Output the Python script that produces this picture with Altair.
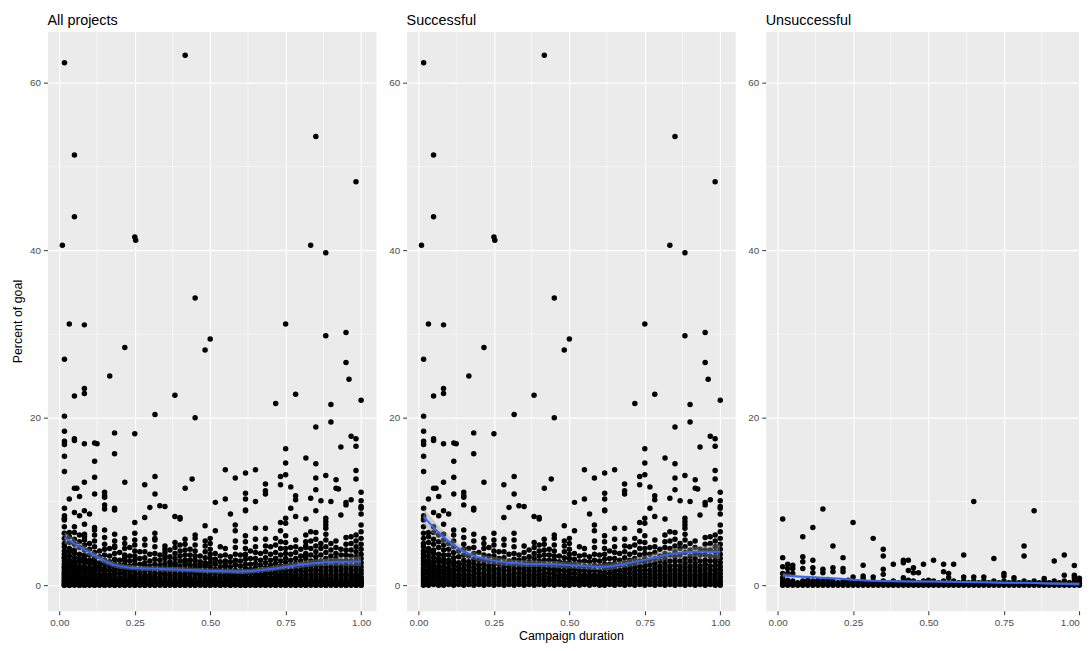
import altair as alt
import pandas as pd

FONT = "Liberation Sans"
N_DAYS = 60

# ---- Successful projects: dense band per campaign day (day 1..60), percent of goal
succ_cols = [
    [0.0, 0.3, 0.6, 0.9, 1.2, 1.5, 1.8, 2.1, 2.5, 2.9, 3.3, 3.7, 4.1, 4.6, 5.0, 5.6, 6.2, 7.0, 7.8],
    [0.0, 0.3, 0.7, 1.0, 1.4, 1.8, 2.2, 2.6, 3.0, 3.5, 4.0, 4.4, 5.1, 5.8],
    [0.1, 0.4, 0.8, 1.2, 1.6, 2.0, 2.4, 2.8, 3.3, 3.8, 4.2, 4.9, 5.5, 6.3, 7.0],
    [0.0, 0.4, 0.8, 1.1, 1.5, 1.9, 2.3, 2.8, 3.2, 3.7, 4.5, 5.2, 6.0],
    [0.0, 0.3, 0.6, 1.0, 1.4, 1.8, 2.2, 2.7, 3.1, 3.6, 4.2, 4.8, 5.4, 6.1, 7.3],
    [0.1, 0.5, 0.9, 1.3, 1.7, 2.1, 2.6, 3.0, 3.6, 4.3, 5.0],
    [0.0, 0.3, 0.7, 1.1, 1.5, 1.9, 2.4, 2.8, 3.3, 3.9, 4.6, 5.3, 6.0, 6.6],
    [0.1, 0.5, 0.9, 1.3, 1.8, 2.2, 2.7, 3.4, 4.1],
    [0.0, 0.4, 0.8, 1.2, 1.6, 2.0, 2.5, 3.0, 3.6, 4.3, 4.9, 5.7, 6.6],
    [0.1, 0.5, 0.9, 1.3, 1.8, 2.3, 2.8, 3.5, 4.4],
    [0.0, 0.4, 0.8, 1.2, 1.6, 2.1, 2.6, 3.1, 3.8, 4.5, 5.3, 6.1],
    [0.1, 0.5, 0.9, 1.4, 1.9, 2.4, 3.0, 3.9],
    [0.0, 0.3, 0.7, 1.1, 1.5, 2.0, 2.5, 3.0, 3.6, 4.4, 5.0, 5.6],
    [0.1, 0.5, 0.9, 1.3, 1.8, 2.3, 2.9, 3.5, 4.5],
    [0.0, 0.4, 0.8, 1.2, 1.6, 2.0, 2.5, 3.0, 3.5, 4.1, 4.8, 5.4, 6.2],
    [0.1, 0.5, 0.9, 1.4, 1.9, 2.5, 3.2, 4.0],
    [0.0, 0.4, 0.8, 1.2, 1.7, 2.2, 2.7, 3.3, 4.0, 4.8, 5.5],
    [0.1, 0.5, 0.9, 1.3, 1.8, 2.3, 2.9, 3.7],
    [0.0, 0.3, 0.7, 1.1, 1.5, 2.0, 2.5, 3.1, 3.8, 4.6, 5.4, 6.2],
    [0.1, 0.5, 0.9, 1.4, 1.9, 2.4, 3.0, 3.6],
    [0.0, 0.4, 0.8, 1.2, 1.6, 2.1, 2.6, 3.2, 3.9, 4.7],
    [0.1, 0.5, 0.9, 1.3, 1.8, 2.3, 2.8, 3.4, 4.2],
    [0.0, 0.4, 0.8, 1.2, 1.6, 2.1, 2.6, 3.2, 3.8, 4.5, 5.1],
    [0.1, 0.5, 0.9, 1.3, 1.8, 2.3, 2.9, 3.5, 4.1, 4.8],
    [0.0, 0.3, 0.7, 1.1, 1.5, 2.0, 2.5, 3.0, 3.6, 4.2, 4.9, 5.5],
    [0.1, 0.5, 0.9, 1.4, 1.9, 2.4, 3.0, 3.6, 4.3],
    [0.0, 0.4, 0.8, 1.2, 1.6, 2.0, 2.5, 3.0, 3.5, 4.1, 4.8, 5.6],
    [0.1, 0.5, 0.9, 1.3, 1.8, 2.3, 2.8, 3.5],
    [0.0, 0.4, 0.8, 1.2, 1.7, 2.2, 2.7, 3.3, 4.0, 4.7, 5.3],
    [0.0, 0.3, 0.6, 1.0, 1.4, 1.8, 2.2, 2.7, 3.2, 3.7, 4.3, 5.0, 5.6],
    [0.1, 0.5, 0.9, 1.4, 1.9, 2.5, 3.1, 3.8],
    [0.0, 0.4, 0.8, 1.2, 1.7, 2.2, 2.8, 3.5, 4.6],
    [0.1, 0.5, 0.9, 1.3, 1.8, 2.3, 2.9, 3.6, 4.4],
    [0.0, 0.4, 0.8, 1.2, 1.7, 2.2, 2.8, 3.4],
    [0.1, 0.5, 0.9, 1.3, 1.8, 2.4, 3.0, 3.7, 4.5, 5.3],
    [0.0, 0.4, 0.8, 1.2, 1.7, 2.3, 2.9, 3.6],
    [0.0, 0.3, 0.7, 1.1, 1.5, 2.0, 2.5, 3.1, 3.7, 4.4, 5.2, 5.9],
    [0.1, 0.5, 0.9, 1.4, 1.9, 2.5, 3.2, 4.1],
    [0.0, 0.4, 0.8, 1.2, 1.6, 2.1, 2.6, 3.2, 3.9, 4.6, 5.5],
    [0.1, 0.5, 0.9, 1.3, 1.8, 2.4, 3.0, 3.8],
    [0.0, 0.4, 0.8, 1.2, 1.6, 2.1, 2.7, 3.3, 4.0, 4.7, 5.5],
    [0.1, 0.5, 0.9, 1.4, 1.9, 2.4, 3.0, 3.7, 4.6],
    [0.0, 0.4, 0.8, 1.2, 1.6, 2.1, 2.6, 3.2, 3.9, 4.8, 5.6],
    [0.1, 0.5, 0.9, 1.3, 1.8, 2.3, 2.9, 3.6, 4.4, 5.2],
    [0.0, 0.3, 0.6, 1.0, 1.4, 1.8, 2.2, 2.7, 3.2, 3.8, 4.4, 5.1, 5.9],
    [0.1, 0.5, 0.9, 1.3, 1.8, 2.4, 3.0, 3.7, 4.5],
    [0.0, 0.4, 0.8, 1.2, 1.6, 2.1, 2.6, 3.2, 3.9, 4.6, 5.4],
    [0.1, 0.5, 0.9, 1.3, 1.8, 2.3, 2.9, 3.5, 4.3],
    [0.0, 0.4, 0.8, 1.2, 1.6, 2.1, 2.6, 3.2, 3.8, 4.5, 5.2, 6.0],
    [0.1, 0.5, 0.9, 1.3, 1.8, 2.3, 2.9, 3.6, 4.4, 5.3],
    [0.0, 0.3, 0.7, 1.1, 1.5, 1.9, 2.4, 2.9, 3.4, 4.0, 4.7, 5.5, 6.3],
    [0.1, 0.5, 0.9, 1.3, 1.8, 2.3, 2.9, 3.6, 4.4, 5.0],
    [0.0, 0.4, 0.8, 1.2, 1.6, 2.1, 2.6, 3.2, 3.9, 4.6, 5.4, 6.1],
    [0.1, 0.5, 0.9, 1.3, 1.8, 2.3, 2.9, 3.5, 4.2, 5.0],
    [0.0, 0.4, 0.8, 1.2, 1.6, 2.1, 2.6, 3.2, 3.8, 4.5, 5.3],
    [0.1, 0.5, 0.9, 1.3, 1.8, 2.3, 2.9, 3.6, 4.3],
    [0.0, 0.3, 0.7, 1.1, 1.5, 2.0, 2.5, 3.0, 3.6, 4.2, 4.9, 5.7],
    [0.1, 0.5, 0.9, 1.3, 1.8, 2.3, 2.9, 3.5, 4.2, 5.0, 5.8],
    [0.0, 0.3, 0.7, 1.1, 1.5, 1.9, 2.4, 2.9, 3.4, 4.0, 4.6, 5.3, 6.0],
    [0.0, 0.3, 0.6, 1.0, 1.4, 1.8, 2.2, 2.7, 3.2, 3.7, 4.3, 4.9, 5.6, 6.4, 7.2],
]

# ---- Successful projects: scattered high values (campaign duration, percent of goal)
succ_out_x = [
    0.017, 0.417, 0.05, 0.85, 0.983, 0.05, 0.01, 0.25, 0.253, 0.833, 0.883, 0.45,
    0.033, 0.083, 0.75, 0.95, 0.883, 0.5, 0.483, 0.217, 0.017, 0.95, 0.167, 0.96,
    0.083, 0.083, 0.05, 0.383, 0.783, 0.717, 0.9, 1.0, 0.017, 0.317, 0.45, 0.9,
    0.85, 0.017, 0.183, 0.25, 0.967, 0.983, 0.017, 0.017, 0.05, 0.05, 0.083, 0.117,
    0.125, 0.933, 0.983, 0.75, 0.183, 0.017, 0.817, 0.117, 0.75, 0.85, 0.55, 0.65,
    0.983, 0.017, 0.617, 0.75, 0.733, 0.317, 0.44, 0.883, 0.117, 0.583, 0.917, 0.85,
    0.083, 0.217, 0.683, 0.283, 0.733, 0.983, 0.767, 0.917, 0.925, 0.05, 0.058, 0.417,
    0.85, 0.683, 0.683, 1.0, 0.15, 0.15, 0.617, 0.617, 0.117, 0.317, 0.033, 0.067,
    0.517, 0.55, 0.783, 0.783, 0.833, 0.967, 0.867, 0.9, 1.0, 1.0, 1.0, 0.95,
    0.95, 0.767, 0.617, 0.617, 0.15, 0.15, 0.183, 0.183, 0.017, 0.05, 0.067, 0.083,
    0.1, 0.283, 0.333, 0.35, 0.3, 0.383, 0.4, 0.4, 0.783, 0.883, 0.883, 0.883,
    0.883, 1.0, 0.933, 0.75, 0.75, 0.817, 0.833, 0.567, 0.483, 0.45, 0.517, 0.583,
    0.583, 0.65, 0.683, 0.733, 0.733, 0.017, 0.017, 0.033,
]
succ_out_y = [
    62.4, 63.3, 51.4, 53.6, 48.2, 44.0, 40.6, 41.6, 41.2, 40.6, 39.7, 34.3,
    31.2, 31.1, 31.2, 30.2, 29.8, 29.4, 28.1, 28.4, 27.0, 26.6, 25.0, 24.6,
    23.5, 22.9, 22.6, 22.7, 22.8, 21.7, 21.6, 22.1, 20.2, 20.4, 20.0, 19.5,
    18.9, 18.4, 18.2, 18.1, 17.8, 17.5, 17.2, 16.8, 17.5, 17.3, 16.9, 17.0,
    16.9, 16.5, 16.6, 16.3, 15.7, 15.4, 15.2, 14.8, 14.6, 14.5, 13.8, 13.8,
    13.7, 13.6, 13.4, 13.2, 13.0, 13.0, 12.7, 13.1, 12.9, 12.8, 12.6, 12.8,
    12.3, 12.3, 12.1, 12.0, 12.0, 12.7, 11.75, 11.6, 11.5, 11.6, 11.6, 11.6,
    11.4, 11.3, 10.9, 11.1, 11.1, 10.7, 11.0, 10.3, 10.9, 10.9, 10.3, 10.6,
    9.9, 10.3, 10.7, 10.2, 10.4, 10.2, 10.1, 10.0, 10.1, 9.4, 9.2, 9.6,
    9.9, 9.2, 9.0, 8.9, 10.5, 9.6, 9.2, 9.0, 9.2, 8.7, 8.3, 8.9,
    8.5, 8.1, 9.5, 9.4, 9.3, 8.2, 7.9, 8.1, 8.2, 8.0, 7.6, 7.2,
    6.8, 8.5, 8.4, 8.0, 7.4, 7.9, 6.4, 8.5, 7.1, 6.0, 6.5, 7.2,
    6.5, 6.8, 6.8, 7.5, 6.5, 8.3, 8.0, 6.3,
]

# ---- Unsuccessful projects per campaign day (day 1..60)
fail_cols = [
    [0.0, 0.2, 0.5, 0.9, 1.4, 2.2, 3.3, 7.9], [0.0, 0.3, 0.6, 1.4, 2.0, 2.5],
    [0.0, 0.2, 0.5, 1.4, 2.0, 2.4], [0.0, 0.3],
    [0.0, 0.2, 0.5, 2.0, 2.8, 3.4, 5.8], [0.0, 0.3, 0.6],
    [0.0, 0.2, 0.5, 1.5, 2.1, 3.0, 6.9], [0.0, 0.3, 0.6],
    [0.0, 0.2, 0.5, 1.5, 1.9, 9.1], [0.0, 0.3, 0.7],
    [0.0, 0.2, 0.5, 1.6, 2.1, 4.7], [0.0, 0.3],
    [0.0, 0.2, 0.5, 1.6, 2.0, 3.3], [0.0, 0.3, 0.6],
    [0.0, 0.2, 0.5, 1.0, 7.5], [0.0, 0.3],
    [0.0, 0.2, 0.5, 0.8, 1.1, 2.4], [0.0, 0.3],
    [0.0, 0.2, 0.5, 1.0, 5.6], [0.0, 0.3],
    [0.0, 0.2, 0.5, 1.3, 1.9, 3.5, 4.3], [0.0, 0.3],
    [0.0, 0.2, 0.5, 2.5], [0.0, 0.3],
    [0.0, 0.2, 0.5, 0.9, 2.7, 3.0], [0.0, 0.3, 0.6, 1.75, 3.0],
    [0.0, 0.2, 0.5, 1.5, 2.1], [0.0, 0.3, 1.5],
    [0.0, 0.2, 0.5, 2.5], [0.0, 0.3, 0.6],
    [0.0, 0.2, 0.5, 3.0], [0.0, 0.3],
    [0.0, 0.2, 0.5, 1.6, 2.5], [0.0, 0.3, 0.9, 1.4],
    [0.0, 0.2, 0.5, 2.5], [0.0, 0.3],
    [0.0, 0.2, 0.5, 1.0, 3.6], [0.0, 0.3],
    [0.0, 0.2, 0.5, 1.0, 10.0], [0.0, 0.3],
    [0.0, 0.2, 0.5, 1.0], [0.0, 0.3],
    [0.0, 0.2, 0.5, 3.2], [0.0, 0.3],
    [0.0, 0.2, 0.5, 1.1, 1.4], [0.0, 0.3],
    [0.0, 0.2, 0.5, 0.9], [0.0, 0.3],
    [0.0, 0.2, 0.5, 3.5, 4.7], [0.0, 0.3],
    [0.0, 0.2, 0.5, 8.9], [0.0, 0.3],
    [0.0, 0.2, 0.5, 0.8], [0.0, 0.3],
    [0.0, 0.2, 0.5, 2.9], [0.0, 0.3],
    [0.0, 0.2, 0.5, 1.2, 3.6], [0.0, 0.3],
    [0.0, 0.2, 0.5, 0.9, 1.2, 2.35], [0.0, 0.2, 0.5, 0.85],
]

# ---- Smoothed trend and half-width of its confidence band
fit_x = [0.017, 0.067, 0.12, 0.177, 0.24, 0.34, 0.45, 0.51, 0.61, 0.69, 0.77, 0.82, 0.91, 1.0]
all_fit = [5.7, 4.6, 3.5, 2.5, 2.1, 1.95, 1.8, 1.7, 1.65, 1.9, 2.3, 2.55, 2.8, 2.85]
all_se = [0.7, 0.5, 0.4, 0.35, 0.3, 0.3, 0.3, 0.3, 0.3, 0.3, 0.35, 0.4, 0.45, 0.6]
succ_fit = [8.2, 6.3, 4.7, 3.6, 3.0, 2.6, 2.5, 2.4, 2.2, 2.6, 3.2, 3.6, 4.0, 4.0]
succ_se = [1.0, 0.8, 0.6, 0.5, 0.45, 0.4, 0.4, 0.4, 0.4, 0.45, 0.5, 0.55, 0.6, 0.9]
fail_fit = [1.2, 1.05, 0.95, 0.85, 0.7, 0.5, 0.45, 0.45, 0.4, 0.35, 0.3, 0.3, 0.2, 0.15]
fail_se = [0.3, 0.2, 0.15, 0.15, 0.12, 0.12, 0.12, 0.12, 0.12, 0.12, 0.12, 0.12, 0.15, 0.2]

titles = ["All projects", "Successful", "Unsuccessful"]
x_major = [0, 0.25, 0.5, 0.75, 1.0]
x_minor = [0.125, 0.375, 0.625, 0.875]
y_major = [0, 20, 40, 60]
y_minor = [10, 30, 50]

XDOM = [-0.0395, 1.0495]
XDOM_LAST = [-0.0395, 1.0]   # third panel stops at the page edge
YDOM = [-3.05, 66.15]
W, W_LAST, H = 333.5, 318.3, 588


def cols_to_df(cols):
    rows = []
    for i, col in enumerate(cols):
        for v in col:
            rows.append({"x": (i + 1) / N_DAYS, "y": v})
    return pd.DataFrame(rows)


succ_df = pd.concat([cols_to_df(succ_cols),
                     pd.DataFrame({"x": succ_out_x, "y": succ_out_y})], ignore_index=True)
fail_df = cols_to_df(fail_cols)
all_df = pd.concat([succ_df, fail_df], ignore_index=True)


def fit_df(fit, se):
    return pd.DataFrame({"x": fit_x, "fit": fit,
                         "lo": [f - s for f, s in zip(fit, se)],
                         "hi": [f + s for f, s in zip(fit, se)]})


def panel(df, fdf, title, ytitle, xtitle, w, xdom, flush=False):
    xs = alt.Scale(domain=xdom, nice=False, zero=False)
    ys = alt.Scale(domain=YDOM, nice=False, zero=False)
    if flush:
        xaxis = alt.Axis(values=x_major, format=".2f", title=xtitle, titlePadding=2.5,
                         labelFlush=2)
    else:
        xaxis = alt.Axis(values=x_major, format=".2f", title=xtitle, titlePadding=2.5)
    yaxis = alt.Axis(values=y_major, format="d", title=ytitle, titlePadding=5)
    minor_y = alt.Chart(pd.DataFrame({"v": y_minor})).mark_rule(
        color="white", strokeWidth=0.55).encode(y=alt.Y("v:Q", scale=ys, axis=yaxis))
    minor_x = alt.Chart(pd.DataFrame({"v": x_minor})).mark_rule(
        color="white", strokeWidth=0.55).encode(x=alt.X("v:Q", scale=xs, axis=xaxis))
    pts = alt.Chart(df).mark_circle(size=31, color="black", opacity=1).encode(
        x=alt.X("x:Q", scale=xs, axis=xaxis),
        y=alt.Y("y:Q", scale=ys, axis=yaxis))
    band = alt.Chart(fdf).mark_area(color="#999999", opacity=0.4, interpolate="monotone").encode(
        x=alt.X("x:Q", scale=xs, axis=xaxis),
        y=alt.Y("lo:Q", scale=ys, axis=yaxis), y2="hi:Q")
    line = alt.Chart(fdf).mark_line(color="#3366FF", strokeWidth=2, interpolate="monotone").encode(
        x=alt.X("x:Q", scale=xs, axis=xaxis),
        y=alt.Y("fit:Q", scale=ys, axis=yaxis))
    return alt.layer(minor_y, minor_x, pts, band, line).properties(
        width=w, height=H,
        title=alt.TitleParams(title, anchor="start", frame="group", font=FONT, fontSize=14.6,
                              fontWeight="normal", color="black", offset=3.5))


p1 = panel(all_df, fit_df(all_fit, all_se), titles[0], "Percent of goal", None, W, XDOM)
p2 = panel(succ_df, fit_df(succ_fit, succ_se), titles[1], None, "Campaign duration", W, XDOM)
p3 = panel(fail_df, fit_df(fail_fit, fail_se), titles[2], None, None, W_LAST, XDOM_LAST, flush=True)

chart = alt.hconcat(p1, p2, p3, spacing=10.5).properties(
    padding={"left": 3, "top": 0, "right": 0, "bottom": 0}
).configure_view(fill="#EBEBEB", stroke="transparent").configure_axis(
    grid=True, gridColor="white", gridWidth=1.1, domain=False,
    tickColor="#333333", tickSize=4, tickWidth=1,
    labelColor="#4D4D4D", labelFont=FONT, labelFontSize=10, labelPadding=3,
    titleFont=FONT, titleFontSize=12.6, titleColor="black", titleFontWeight="normal",
)

chart.save("out.html", embed_options={"renderer": "svg", "actions": False})
